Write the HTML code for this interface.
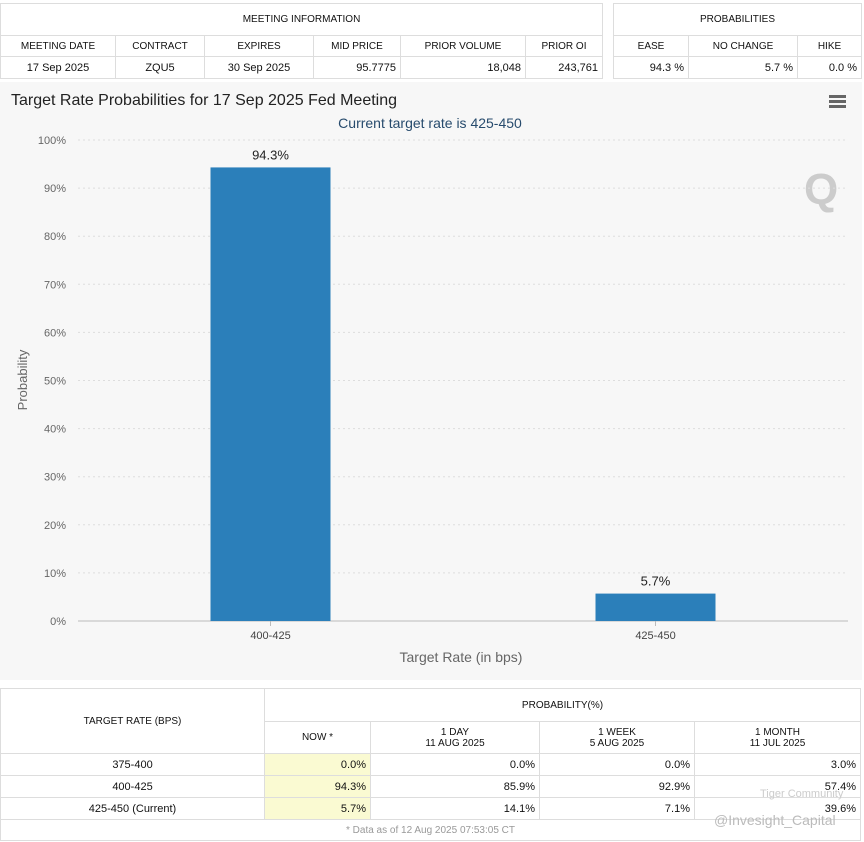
<!DOCTYPE html>
<html><head><meta charset="utf-8"><style>
body{margin:0;width:864px;height:842px;background:#fff;font-family:"Liberation Sans",sans-serif;position:relative;overflow:hidden}
table{border-collapse:collapse;position:absolute;font-size:11px;color:#111}
td{border:1px solid #ddd;padding:0 4px;height:20px}
.h td{text-align:center;font-size:10px}
#chart{position:absolute;left:0;top:82px;width:862px;height:598px;background:#f7f7f7}
.bt td{border:1px solid #ddd;font-size:11px}
.y{background:#fafad2}
</style></head><body>
<table style="left:0;top:3px;width:603px">
<tr class="h" style="height:32px"><td colspan="6">MEETING INFORMATION</td></tr>
<tr class="h"><td style="width:106px">MEETING DATE</td><td style="width:80px">CONTRACT</td><td style="width:100px">EXPIRES</td><td style="width:78px">MID PRICE</td><td style="width:116px">PRIOR VOLUME</td><td>PRIOR OI</td></tr>
<tr style="height:22px"><td style="text-align:center">17 Sep 2025</td><td style="text-align:center">ZQU5</td><td style="text-align:center">30 Sep 2025</td><td style="text-align:right">95.7775</td><td style="text-align:right">18,048</td><td style="text-align:right">243,761</td></tr>
</table>
<table style="left:613px;top:3px;width:249px">
<tr class="h" style="height:32px"><td colspan="3">PROBABILITIES</td></tr>
<tr class="h"><td style="width:66px">EASE</td><td style="width:100px">NO CHANGE</td><td>HIKE</td></tr>
<tr style="height:22px"><td style="text-align:right">94.3 %</td><td style="text-align:right">5.7 %</td><td style="text-align:right">0.0 %</td></tr>
</table>
<div id="chart">
<svg id="svg" width="862" height="598" xmlns="http://www.w3.org/2000/svg" font-family="Liberation Sans, sans-serif">
<text x="11" y="23" font-size="16" fill="#222">Target Rate Probabilities for 17 Sep 2025 Fed Meeting</text>
<text x="430" y="46" font-size="14" fill="#274b6d" text-anchor="middle">Current target rate is 425-450</text>
<g fill="#666"><rect x="829" y="13" width="17" height="3"/><rect x="829" y="18" width="17" height="3"/><rect x="829" y="23" width="17" height="3"/></g>
<text x="804" y="122" font-size="44" font-weight="bold" fill="#ccc">Q</text>
<text transform="translate(27,298) rotate(-90)" font-size="13" fill="#666" text-anchor="middle">Probability</text>
<text x="461" y="580" font-size="14" fill="#666" text-anchor="middle">Target Rate (in bps)</text>
<g id="g"></g>
</svg></div>
<table class="bt" style="left:0;top:688px;width:861px">
<tr style="height:33px"><td rowspan="2" style="width:255px;text-align:center;font-size:10px">TARGET RATE (BPS)</td><td colspan="4" style="text-align:center;font-size:10px">PROBABILITY(%)</td></tr>
<tr style="height:32px;font-size:10px"><td style="width:97px;text-align:center;font-size:10px">NOW *</td><td style="width:160px;text-align:center;font-size:10px">1 DAY<br>11 AUG 2025</td><td style="width:146px;text-align:center;font-size:10px">1 WEEK<br>5 AUG 2025</td><td style="text-align:center;font-size:10px">1 MONTH<br>11 JUL 2025</td></tr>
<tr style="height:22px"><td style="text-align:center">375-400</td><td class="y" style="text-align:right">0.0%</td><td style="text-align:right">0.0%</td><td style="text-align:right">0.0%</td><td style="text-align:right">3.0%</td></tr>
<tr style="height:22px"><td style="text-align:center">400-425</td><td class="y" style="text-align:right">94.3%</td><td style="text-align:right">85.9%</td><td style="text-align:right">92.9%</td><td style="text-align:right">57.4%</td></tr>
<tr style="height:22px"><td style="text-align:center">425-450 (Current)</td><td class="y" style="text-align:right">5.7%</td><td style="text-align:right">14.1%</td><td style="text-align:right">7.1%</td><td style="text-align:right">39.6%</td></tr>
<tr style="height:21px"><td colspan="5" style="text-align:center;color:#999;font-size:10px">* Data as of 12 Aug 2025 07:53:05 CT</td></tr>
</table>
<div style="position:absolute;left:714px;top:812px;font-size:14px;color:#bbb">@Invesight_Capital</div>
<div style="position:absolute;left:760px;top:788px;font-size:11px;color:#ccc">Tiger Community</div>
<script>
const categories=["400-425","425-450"];
const values=[94.3,5.7];
const ticks=[0,10,20,30,40,50,60,70,80,90,100];
const NS="http://www.w3.org/2000/svg";
const g=document.getElementById('g');
const x0=78,x1=848,yB=539,yT=58;
const ys=v=>yB-(v/100)*(yB-yT);
const band=(x1-x0)/categories.length;
const xc=i=>x0+band*(i+0.5);
function mk(t,a){const e=document.createElementNS(NS,t);for(const k in a)e.setAttribute(k,a[k]);g.appendChild(e);return e;}
ticks.forEach(t=>{
 const l=mk('line',{x1:x0,x2:x1,y1:ys(t),y2:ys(t),stroke:t===0?'#bbb':'#ddd','stroke-dasharray':t===0?'':'2,3'});
 
 
 const tx=mk('text',{x:66,y:ys(t)+4,'font-size':11,fill:'#666','text-anchor':'end'});tx.textContent=t+'%';
 
 
});
categories.forEach((c,i)=>{
 const r=mk('rect',{x:xc(i)-60,y:ys(values[i]),width:120,height:yB-ys(values[i]),fill:'#2b7fba'});
 
 
 const v=mk('text',{x:xc(i),y:ys(values[i])-8,'font-size':13,fill:'#222','text-anchor':'middle'});v.textContent=values[i]+'%';
 
 
 const t=mk('line',{x1:xc(i),x2:xc(i),y1:yB,y2:yB+5,stroke:'#bbb'});
 const l=mk('text',{x:xc(i),y:yB+18,'font-size':11,fill:'#444','text-anchor':'middle'});l.textContent=c;
 
 
});
</script>
</body></html>
